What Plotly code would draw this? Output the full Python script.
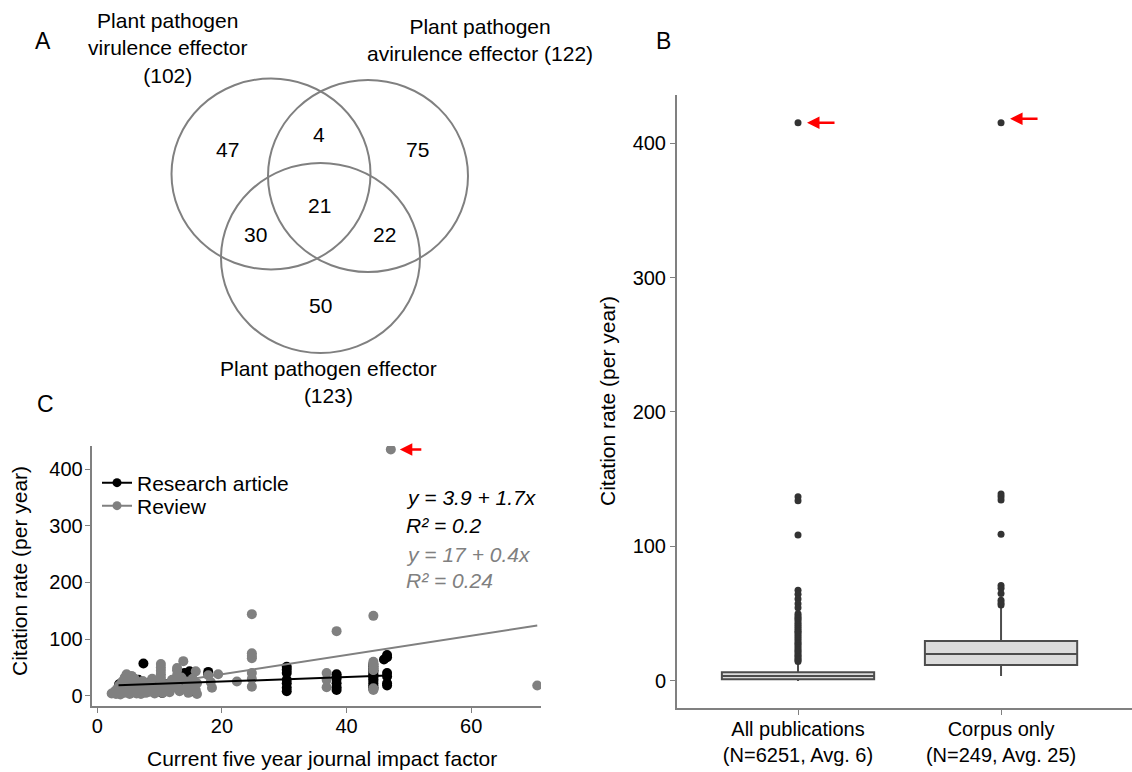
import plotly.graph_objects as go

W, H = 1132, 772
def px(x): return x / W
def py(y): return 1 - y / H

FONT = "Arial, Liberation Sans, sans-serif"
GREY = "#808080"
TXT = 21

# ---------------- Panel A : Venn counts ----------------
venn_sets = ["Plant pathogen<br>virulence effector<br>(102)",
             "Plant pathogen<br>avirulence effector (122)",
             "Plant pathogen effector<br>(123)"]
venn_counts = {"vir_only": 47, "vir_avr": 4, "avr_only": 75, "all": 21,
               "vir_eff": 30, "avr_eff": 22, "eff_only": 50}

# ---------------- Panel B : box plots ----------------
box_x = [0, 1]
box_labels = ["All publications<br>(N=6251, Avg. 6)", "Corpus only<br>(N=249, Avg. 25)"]
box_q1 = [1.3, 11.9]
box_median = [3.7, 20.1]
box_q3 = [6.5, 29.7]
box_lower = [0, 3.7]
box_upper = [13.4, 55.2]
all_outliers = [415, 137, 134, 108.5, 67.5, 64.5, 61, 57.5, 54.5, 50, 48.5, 47, 46,
                44.5, 43, 41.5, 40, 38.5, 37, 36, 34.5, 33, 31.5, 30, 28.5, 27.5, 26,
                24.5, 23, 22, 20.5, 19, 18, 16.5, 15.5, 14.5]
corpus_outliers = [415, 139, 137, 134.5, 109, 71, 69, 65, 60, 58, 56.5]

# ---------------- Panel C : scatter ----------------
review_x = [2.3, 2.8, 3.0, 3.2, 3.4, 3.5, 3.7, 3.9, 4.0, 4.1, 4.3, 4.4, 4.5, 4.7, 4.8,
            5.0, 5.1, 5.2, 5.4, 5.5, 5.6, 5.8, 5.9, 6.0, 6.1, 6.3, 6.4, 6.5, 6.7, 6.8,
            7.0, 7.1, 7.3, 7.5, 7.6, 7.8, 8.0, 8.2, 8.4, 8.6, 8.8, 9.0, 9.2, 9.4,
            10.2, 10.2, 10.2, 10.2, 10.2, 10.2, 10.2, 10.2, 10.2, 10.5,
            11.0, 11.3, 11.6, 12.0, 12.3, 12.6, 12.8, 12.8, 12.8, 12.8, 12.8, 13.2,
            13.5, 13.8, 14.0, 14.3, 14.6, 15.0, 15.3, 15.8, 15.8, 16.0, 16.0,
            17.8, 18.2, 18.4, 19.4, 22.4,
            24.8, 24.8, 24.8, 24.8, 24.8, 24.8, 24.8,
            36.8, 36.8, 36.8, 38.4,
            44.3, 44.3, 44.3, 44.3, 44.3, 44.3, 44.3,
            47.1, 70.6]
review_y = [4, 8, 3, 12, 6, 18, 2, 10, 25, 14, 5, 32, 20, 38, 8,
            15, 28, 3, 22, 35, 10, 6, 18, 30, 12, 4, 24, 16, 8, 20,
            3, 13, 26, 9, 18, 5, 14, 22, 7, 11, 30, 16, 4, 10,
            56, 50, 44, 38, 32, 27, 21, 15, 9, 5,
            12, 20, 6, 28, 15, 22, 49, 45, 36, 27, 18, 8,
            32, 61, 12, 25, 5, 18, 30, 43, 10, 3, 22,
            36, 24, 14, 38, 25,
            144, 75, 70, 66, 40, 30, 16,
            40, 28, 15, 114,
            141, 60, 55, 50, 45, 13, 10,
            435, 18]
research_x = [3.5, 4.0, 4.5, 5.0, 5.5, 6.0, 6.3, 6.6, 7.0, 7.4, 7.8, 8.5, 9.0,
              10.0, 10.4, 10.6, 11.0, 11.5, 12.0, 12.5, 13.0, 13.5, 14.0, 14.3, 14.5,
              14.8, 14.8, 14.8, 14.8, 15.2, 15.5, 17.8, 17.8,
              30.4, 30.4, 30.4, 30.4, 30.4, 30.4, 30.4,
              38.4, 38.4, 38.4, 38.4, 38.4, 38.4,
              44.3, 44.3, 44.3, 44.3, 44.3, 44.3, 44.3, 44.3, 44.3, 44.3, 44.3, 44.3,
              44.3, 44.3,
              46.5, 46.5, 46.0, 46.5, 46.5, 46.5, 46.5]
research_y = [20, 14, 18, 22, 12, 25, 19, 28, 16, 57, 21, 24, 18,
              24, 5, 14, 20, 10, 26, 17, 22, 30, 40, 33, 28,
              43, 35, 25, 15, 8, 20, 42, 38,
              51, 46, 40, 28, 22, 14, 8,
              38, 34, 30, 22, 15, 10,
              56, 52, 48, 45, 42, 38, 35, 32, 29, 26, 22, 18,
              15, 12,
              72, 68, 64, 40, 34, 22, 18]
# fitted lines as drawn (intercept, slope, x-start, x-end)
fit_black = (17.0, 0.4, 3.4, 46.5)
fit_grey = (3.9, 1.7, 2.3, 70.6)
eq_labels = ["<i>y = 3.9 + 1.7x</i>", "<i>R² = 0.2</i>", "<i>y = 17 + 0.4x</i>", "<i>R² = 0.24</i>"]
eq_colors = ["black", "black", GREY, GREY]

fig = go.Figure()

# ---- Panel B traces ----
for i in range(2):
    fig.add_trace(go.Box(x=[box_x[i]], q1=[box_q1[i]], median=[box_median[i]], q3=[box_q3[i]],
                         lowerfence=[box_lower[i]], upperfence=[box_upper[i]],
                         width=0.75, whiskerwidth=0, boxpoints=False,
                         fillcolor="#dcdcdc", line=dict(color="#4d4d4d", width=2),
                         showlegend=False, xaxis="x", yaxis="y", hoverinfo="skip"))
for xv, outs in zip(box_x, [all_outliers, corpus_outliers]):
    fig.add_trace(go.Scatter(x=[xv] * len(outs), y=outs, mode="markers",
                             marker=dict(color="#333333", size=7),
                             showlegend=False, xaxis="x", yaxis="y"))

# ---- Panel C traces ----
fig.add_trace(go.Scatter(x=research_x, y=research_y, mode="markers",
                         marker=dict(color="black", size=10), showlegend=False,
                         xaxis="x2", yaxis="y2"))
fig.add_trace(go.Scatter(x=review_x, y=review_y, mode="markers",
                         marker=dict(color=GREY, size=10), showlegend=False,
                         xaxis="x2", yaxis="y2"))
for (b0, b1, xs, xe), col in [(fit_grey, GREY), (fit_black, "black")]:
    fig.add_trace(go.Scatter(x=[xs, xe], y=[b0 + b1 * xs, b0 + b1 * xe], mode="lines",
                             line=dict(color=col, width=2), showlegend=False,
                             xaxis="x2", yaxis="y2"))
fig.add_trace(go.Scatter(x=[None], y=[None], mode="lines+markers", name="Research article",
                         line=dict(color="black", width=2), marker=dict(color="black", size=9),
                         xaxis="x2", yaxis="y2", legend="legend"))
fig.add_trace(go.Scatter(x=[None], y=[None], mode="lines+markers", name="Review",
                         line=dict(color=GREY, width=2), marker=dict(color=GREY, size=9),
                         xaxis="x2", yaxis="y2", legend="legend2"))

axis_common = dict(showline=True, linecolor=GREY, linewidth=2, ticks="outside", ticklen=5,
                   tickcolor=GREY, tickwidth=1, showgrid=False, zeroline=False,
                   tickfont=dict(size=20, color="black", family=FONT))

leg_common = dict(xanchor="left", yanchor="middle", bgcolor="rgba(0,0,0,0)",
                  font=dict(size=TXT, family=FONT, color="black"), tracegroupgap=0)

fig.update_layout(
    width=W, height=H, margin=dict(l=0, r=0, t=0, b=0),
    paper_bgcolor="white", plot_bgcolor="white",
    font=dict(family=FONT, size=TXT, color="black"),
    xaxis=dict(domain=[px(677), 1.0], range=[-0.596, 1.645], tickvals=box_x,
               ticktext=box_labels, anchor="y", ticklabelstandoff=-3, **axis_common),
    yaxis=dict(domain=[py(708), py(95)], range=[-20.1, 435.7],
               tickvals=[0, 100, 200, 300, 400], anchor="x", **axis_common),
    xaxis2=dict(domain=[px(91.7), px(541)], range=[-0.9, 71.2], tickvals=[0, 20, 40, 60],
                anchor="y2", ticklabelstandoff=-4, **axis_common),
    yaxis2=dict(domain=[py(706), py(446)], range=[-18.2, 441], ticklabelstandoff=-2,
                tickvals=[0, 100, 200, 300, 400], anchor="x2", **axis_common),
    legend=dict(x=px(97), y=py(483), **leg_common),
    legend2=dict(x=px(97), y=py(506), **leg_common),
    showlegend=True,
)

# ---- Venn circles ----
circles = [(271, 174, 99.5, 95.5), (368, 176, 100, 96), (320.5, 258, 99.5, 95)]
for cx, cy, rx, ry in circles:
    fig.add_shape(type="circle", xref="paper", yref="paper",
                  x0=px(cx - rx), x1=px(cx + rx), y0=py(cy + ry), y1=py(cy - ry),
                  line=dict(color=GREY, width=2))

ann = []
count_pos = {"vir_only": (227, 149), "vir_avr": (319, 135), "avr_only": (417, 149),
             "all": (319, 205), "vir_eff": (255, 235), "avr_eff": (384, 235),
             "eff_only": (320, 305)}
for k, (x, y) in count_pos.items():
    ann.append(dict(x=px(x), y=py(y), text=str(venn_counts[k])))
ann.append(dict(x=px(168), y=py(48), text=venn_sets[0]))
ann.append(dict(x=px(480), y=py(40), text=venn_sets[1]))
ann.append(dict(x=px(328), y=py(382), text=venn_sets[2]))
# panel letters
for t, (x, y) in {"A": (43, 41), "B": (664, 41), "C": (45, 404)}.items():
    ann.append(dict(x=px(x), y=py(y), text=t, font=dict(size=23)))
# axis titles
ann.append(dict(x=px(19), y=py(571), text="Citation rate (per year)", textangle=-90))
ann.append(dict(x=px(322), y=py(758), text="Current five year journal impact factor"))
ann.append(dict(x=px(608), y=py(401), text="Citation rate (per year)", textangle=-90))
# equations
for lab, col, y in zip(eq_labels, eq_colors, [498, 525, 554, 580]):
    ann.append(dict(x=px(404), y=py(y), text=lab, xanchor="left", font=dict(color=col, size=TXT)))

for a in ann:
    a.setdefault("xref", "paper")
    a.setdefault("yref", "paper")
    a.setdefault("showarrow", False)
    a.setdefault("xanchor", "center")
    a.setdefault("yanchor", "middle")
    fig.add_annotation(**a)

# red arrows pointing to outliers
arrow = dict(showarrow=True, arrowhead=2, arrowsize=1, arrowwidth=2.5, arrowcolor="red",
             ay=0, text="", standoff=9)
fig.add_annotation(x=0, y=415, xref="x", yref="y", ax=38, **arrow)
fig.add_annotation(x=1, y=418, xref="x", yref="y", ax=38, **arrow)
fig.add_annotation(x=47.1, y=435, xref="x2", yref="y2", ax=32, **arrow)

fig.write_html("out.html", config={"displayModeBar": False},
               post_script="document.body.style.margin='0px';")
